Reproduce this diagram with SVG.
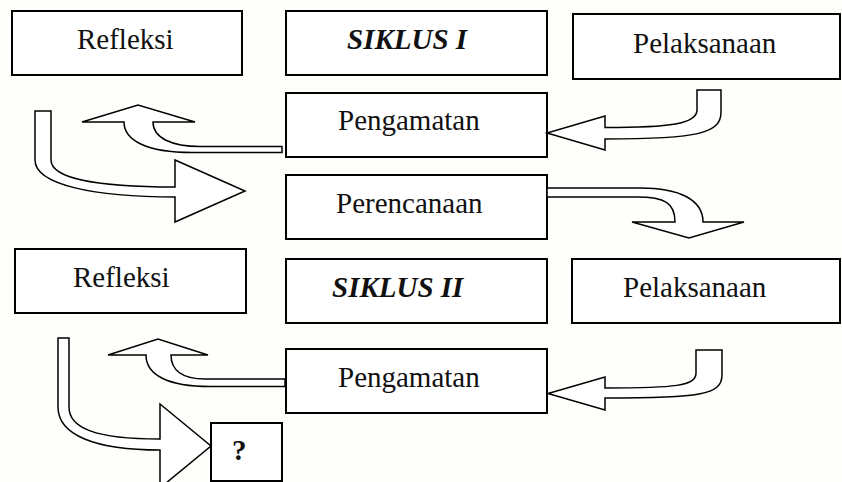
<svg xmlns="http://www.w3.org/2000/svg" width="842" height="482" viewBox="0 0 842 482">
<style>
  .box { fill: #ffffff; stroke: #000000; stroke-width: 2; }
  .lbl { font-family: "Liberation Serif", "Times New Roman", serif; font-size: 29px; fill: #111111; }
  .bi { font-weight: bold; font-style: italic; }
  .b { font-weight: bold; }
  .arrow { fill: #ffffff; stroke: #000000; stroke-width: 1.5; stroke-linejoin: miter; }
</style>
<rect x="0" y="0" width="842" height="482" fill="#fefefb"/>

<g id="refleksi1">
  <rect class="box" x="12" y="11" width="230" height="64"/>
  <text class="lbl" x="77" y="49">Refleksi</text>
</g>
<g id="siklus1">
  <rect class="box" x="286" y="11" width="261" height="64"/>
  <text class="lbl bi" x="347" y="49">SIKLUS I</text>
</g>
<g id="pelaksanaan1">
  <rect class="box" x="573" y="14" width="267" height="65"/>
  <text class="lbl" x="633" y="53">Pelaksanaan</text>
</g>
<g id="pengamatan1">
  <rect class="box" x="286" y="93" width="261" height="64"/>
  <text class="lbl" x="338" y="130">Pengamatan</text>
</g>
<g id="perencanaan">
  <rect class="box" x="286" y="175" width="261" height="64"/>
  <text class="lbl" x="336" y="213">Perencanaan</text>
</g>
<g id="refleksi2">
  <rect class="box" x="15" y="249" width="231" height="64"/>
  <text class="lbl" x="73" y="287">Refleksi</text>
</g>
<g id="siklus2">
  <rect class="box" x="286" y="259" width="261" height="64"/>
  <text class="lbl bi" x="332" y="297">SIKLUS II</text>
</g>
<g id="pelaksanaan2">
  <rect class="box" x="572" y="259" width="268" height="64"/>
  <text class="lbl" x="623" y="297">Pelaksanaan</text>
</g>
<g id="pengamatan2">
  <rect class="box" x="286" y="349" width="261" height="64"/>
  <text class="lbl" x="338" y="387">Pengamatan</text>
</g>
<g id="tanya">
  <rect class="box" x="211" y="423" width="71" height="58"/>
  <text class="lbl b" x="232" y="460">?</text>
</g>

<g id="connectors">
  <path class="arrow" d="M282,146.5 L200,146.5 C172,146.5 153,138 153,122 L195,122 L138,105 L82,122 L124,122 C124,140 146,152.5 192,152.5 L282,152.5 Z"/>
  <path class="arrow" d="M35,111 L51,111 L51,160 C51,178 95,187 175,187 L175,160 L245,191 L175,222 L175,197 C95,197 35,185 35,160 Z"/>
  <path class="arrow" d="M697,90 L721,90 L721,112 C721,133 700,139 605,139 L605,150 L547,133 L605,116 L605,127.5 C670,127.5 697,124 697,110 Z"/>
  <path class="arrow" d="M547,188 L640,188 C680,188 703,200 703,222 L744,222 L689,238 L632,222 L675,222 C675,203 665,197 637,197 L547,197 Z"/>
  <path class="arrow" d="M285,379 L205,379 C182,379 171,370 171,355 L208,355 L158,339 L108,355 L146,355 C146,375 168,386.5 210,386.5 L285,386.5 Z"/>
  <path class="arrow" d="M58,338 L69,338 L69,407 C69,428 95,439 160,439 L160,404 L211,446 L160,488 L160,450 C95,450 58,435 58,407 Z"/>
  <path class="arrow" d="M696,350 L722,350 L722,375 C722,395 700,398 605,398 L605,410 L548,393.5 L605,377 L605,388 C675,388 696,386 696,373 Z"/>
</g>
</svg>
